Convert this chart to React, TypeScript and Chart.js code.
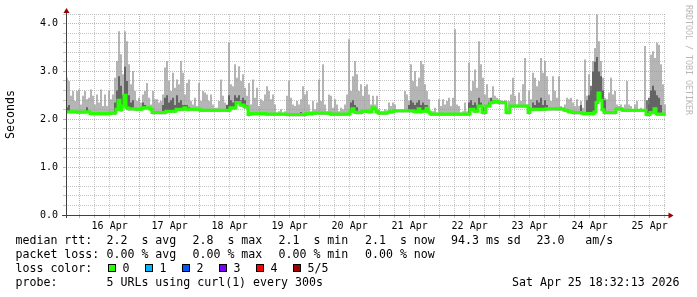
import React, { useEffect, useRef } from "react";
import { Chart, registerables } from "chart.js";

Chart.register(...registerables);

// ---------------- data ----------------
const DAY_LABELS = ["16 Apr", "17 Apr", "18 Apr", "19 Apr", "20 Apr", "21 Apr", "22 Apr", "23 Apr", "24 Apr", "25 Apr"];
// hours relative to 16 Apr 00:00
const START_HOUR = -5.4631; // Apr 15 18:32:13
const END_HOUR = 234.5369; // Apr 25 18:32:13
const STEP_HOURS = 0.8; // one consolidated sample = 48 min
const Y_MAX = 4.2;

// median round-trip time (seconds)
const MEDIAN = [
  2.16,2.16,2.16,2.16,2.16,2.15,2.15,2.15,2.15,2.15,
  2.16,2.16,2.12,2.12,2.12,2.12,2.12,2.12,2.12,2.12,
  2.12,2.12,2.13,2.13,2.13,2.21,2.40,2.20,2.28,2.50,
  2.24,2.22,2.22,2.22,2.22,2.21,2.21,2.21,2.24,2.24,
  2.24,2.24,2.21,2.14,2.14,2.14,2.14,2.14,2.14,2.14,
  2.17,2.17,2.17,2.17,2.17,2.21,2.21,2.21,2.21,2.24,

  2.21,2.21,2.21,2.21,2.21,2.21,2.21,2.19,2.19,2.19,
  2.19,2.19,2.19,2.19,2.19,2.19,2.19,2.19,2.19,2.19,
  2.19,2.19,2.24,2.24,2.24,2.35,2.35,2.30,2.30,2.26,
  2.26,2.10,2.12,2.12,2.12,2.12,2.12,2.12,2.12,2.12,
  2.11,2.11,2.11,2.11,2.11,2.11,2.11,2.11,2.11,2.11,
  2.10,2.10,2.10,2.10,2.10,2.10,2.10,2.10,2.10,2.10,

  2.12,2.12,2.12,2.12,2.13,2.13,2.13,2.13,2.13,2.13,
  2.13,2.13,2.11,2.11,2.11,2.11,2.11,2.11,2.11,2.11,
  2.11,2.11,2.17,2.22,2.15,2.14,2.14,2.14,2.17,2.17,
  2.17,2.16,2.16,2.24,2.22,2.16,2.13,2.13,2.13,2.13,
  2.13,2.16,2.16,2.16,2.18,2.18,2.18,2.18,2.18,2.18,
  2.18,2.18,2.18,2.18,2.16,2.16,2.22,2.16,2.17,2.17,

  2.23,2.15,2.11,2.11,2.11,2.11,2.11,2.11,2.11,2.11,
  2.11,2.11,2.11,2.11,2.11,2.11,2.11,2.11,2.11,2.11,
  2.11,2.11,2.21,2.21,2.17,2.17,2.28,2.28,2.14,2.14,
  2.28,2.28,2.35,2.35,2.37,2.37,2.35,2.35,2.35,2.35,
  2.14,2.14,2.28,2.28,2.28,2.28,2.28,2.28,2.28,2.28,
  2.28,2.14,2.21,2.21,2.21,2.21,2.21,2.21,2.21,2.21,

  2.22,2.22,2.22,2.22,2.22,2.22,2.22,2.22,2.22,2.19,
  2.19,2.16,2.16,2.14,2.14,2.14,2.14,2.14,2.12,2.12,
  2.12,2.12,2.12,2.12,2.15,2.35,2.55,2.40,2.20,2.14,
  2.14,2.14,2.14,2.14,2.14,2.22,2.22,2.22,2.19,2.19,
  2.19,2.19,2.19,2.19,2.19,2.19,2.19,2.19,2.19,2.19,
  2.10,2.10,2.14,2.14,2.22,2.11,2.11,2.11,2.11,2.11,
];

// slowest ping of each sample (top of the light smoke)
const MAX_RTT = [
  2.87,2.80,2.49,2.59,2.38,2.59,2.62,2.31,2.49,2.59,
  2.42,2.45,2.62,2.49,2.31,2.52,2.35,2.62,2.28,2.52,
  2.28,2.59,2.42,2.52,2.87,3.22,3.84,3.36,2.94,3.84,
  3.63,3.15,2.73,3.01,2.59,2.38,2.45,2.35,2.52,2.59,
  2.76,2.45,2.31,2.59,2.42,2.42,2.35,2.38,2.52,3.08,
  3.22,2.80,2.59,2.97,2.66,2.83,2.73,3.22,2.97,2.52,

  2.76,2.83,2.38,2.31,2.45,2.28,2.76,2.38,2.59,2.56,
  2.52,2.38,2.52,2.31,2.24,2.24,2.38,2.83,2.49,2.35,
  2.31,3.60,2.73,2.69,3.15,2.87,3.11,2.80,2.94,2.66,
  2.49,2.76,2.31,2.83,2.45,2.66,2.28,2.42,2.38,2.52,
  2.69,2.59,2.42,2.52,2.31,2.14,2.17,2.21,2.14,2.17,
  2.49,2.80,2.45,2.31,2.28,2.38,2.31,2.42,2.69,2.52,

  2.59,2.31,2.17,2.38,2.21,2.35,2.83,2.38,3.15,2.31,
  2.17,2.52,2.49,2.24,2.42,2.31,2.17,2.24,2.21,2.31,
  2.52,3.67,2.59,2.90,3.22,2.94,2.59,2.73,2.49,2.69,
  2.73,2.52,2.31,2.49,2.31,2.49,2.21,2.17,2.17,2.21,
  2.17,2.35,2.28,2.35,2.31,2.17,2.17,2.17,2.21,2.59,
  2.52,2.38,3.15,2.80,3.01,2.69,2.87,3.22,3.15,2.73,

  2.59,2.42,2.17,2.17,2.24,2.14,2.42,2.28,2.42,2.31,
  2.38,2.45,2.28,2.45,3.88,2.31,2.28,2.14,2.17,2.35,
  2.17,3.18,2.59,2.80,3.04,2.66,3.63,3.15,2.87,2.52,
  2.73,2.45,2.45,2.69,2.49,2.45,2.42,2.40,2.38,2.40,
  2.24,2.38,2.52,2.87,2.49,2.31,2.56,2.38,2.73,3.28,
  2.31,2.59,2.42,2.97,2.87,2.69,2.80,3.28,2.97,3.22,

  2.90,2.52,2.38,2.90,2.59,2.45,2.90,2.28,2.21,2.31,
  2.45,2.42,2.45,2.35,2.28,2.42,2.28,2.38,2.24,3.25,
  2.49,2.94,2.59,3.22,3.49,4.19,3.63,3.22,2.87,2.45,
  2.42,2.56,2.87,2.52,2.59,2.31,2.28,2.31,2.24,2.31,
  2.80,2.31,2.28,2.21,2.31,2.38,2.21,2.24,2.21,3.53,
  2.17,2.31,3.35,3.42,3.28,3.60,3.56,3.15,2.73,2.31,
];

// upper edge of the dense (dark) smoke, 0 = none
const DARK_SMOKE = [
  2.25,2.30,0,0,0,0,0,0,0,0,
  2.25,0,0,0,0,0,0,0,0,0,
  0,0,0,0,2.35,2.60,2.90,2.70,2.50,3.10,
  2.80,2.50,2.35,2.40,0,0,0,0,2.35,2.30,
  0,0,0,0,0,0,0,0,2.30,2.45,
  2.50,2.35,2.40,2.45,2.30,2.50,2.35,2.40,2.30,2.30,

  2.30,2.25,0,0,0,0,0,0,0,0,
  0,0,0,0,0,0,0,0,0,0,
  2.30,2.50,2.40,2.35,2.50,2.45,2.50,2.40,2.45,2.40,
  2.30,0,0,0,0,0,0,0,0,0,
  0,0,0,0,0,0,0,0,0,0,
  0,0,0,0,0,0,0,2.15,0,0,

  0,0,0,0,0,0,0,0,0,0,
  0,0,0,0,0,0,0,0,0,0,
  0,0,2.35,2.40,2.30,2.25,0,0,0,0,
  0,0,0,2.25,0,0,0,0,0,0,
  0,0,0,0,0,0,0,0,0,0,
  0,2.30,2.40,2.35,2.30,2.35,2.40,2.30,2.35,2.30,

  2.30,0,0,0,0,0,0,0,0,0,
  0,0,0,0,0,0,0,0,0,0,
  0,2.35,2.40,2.30,2.35,2.30,2.45,2.35,2.25,0,
  0,2.35,2.45,2.40,0,0,0,0,0,0,
  0,0,0,0,0,0,0,0,0,0,
  2.30,2.25,0,2.35,2.30,2.40,2.35,2.45,2.30,2.40,

  2.30,0,0,0,0,0,0,0,0,0,
  0,0,0,0,0,0,0,2.30,0,0,
  2.40,2.50,2.70,3.00,3.20,3.30,3.00,2.90,2.60,2.40,
  0,0,0,0,0,0,0,0,0,0,
  0,0,0,0,0,0,0,0,0,0,
  2.40,2.45,2.60,2.70,2.60,2.50,2.45,2.30,0,0,
];

const RTT_LABEL = "median rtt:";
const RTT_STATS = ["2.2  s avg", "2.8  s max", "2.1  s min", "2.1  s now", "94.3 ms sd", "23.0   am/s"];
const LOSS_LABEL = "packet loss:";
const LOSS_STATS = ["0.00 % avg", "0.00 % max", "0.00 % min", "0.00 % now"];
const LOSS_COLOR_LABEL = "loss color:";
const LOSS_NAMES = ["0", "1", "2", "3", "4", "5/5"];
const LOSS_COLORS = ["#26ff00", "#00b8ff", "#0059ff", "#7e00ff", "#ff0000", "#a00000"];
const PROBE_LABEL = "probe:";
const PROBE_TEXT = "5 URLs using curl(1) every 300s";
const TIMESTAMP = "Sat Apr 25 18:32:13 2026";
const WATERMARK = "RRDTOOL / TOBI OETIKER";
const Y_TITLE = "Seconds";

// ---------------- styles ----------------
const MONO = "'DejaVu Sans Mono', monospace";
const LEGEND_FONT = `11.6px ${MONO}`;
const MINOR_GRID = "rgba(150,150,150,0.55)";
const MAJOR_GRID = "rgba(225,110,110,0.65)";
const AXIS_COLOR = "#404040";
const ARROW_COLOR = "#990000";

const isInt = (v: number) => Math.abs(v - Math.round(v)) < 1e-6;

const decorPlugin = {
  id: "rrdDecor",
  afterDraw(chart: any) {
    const { ctx, chartArea: a } = chart;
    ctx.save();
    // axes
    ctx.strokeStyle = AXIS_COLOR;
    ctx.lineWidth = 1;
    ctx.beginPath();
    ctx.moveTo(a.left - 4, a.bottom + 0.5);
    ctx.lineTo(a.right + 3, a.bottom + 0.5);
    ctx.moveTo(a.left + 0.5, a.bottom + 3);
    ctx.lineTo(a.left + 0.5, a.top - 2);
    ctx.stroke();
    // arrows
    ctx.fillStyle = ARROW_COLOR;
    ctx.beginPath();
    ctx.moveTo(a.left + 0.5, a.top - 6);
    ctx.lineTo(a.left - 2.5, a.top - 1);
    ctx.lineTo(a.left + 3.5, a.top - 1);
    ctx.closePath();
    ctx.fill();
    ctx.beginPath();
    ctx.moveTo(a.right + 7.5, a.bottom + 0.5);
    ctx.lineTo(a.right + 2.5, a.bottom - 2.5);
    ctx.lineTo(a.right + 2.5, a.bottom + 3.5);
    ctx.closePath();
    ctx.fill();

    // watermark
    ctx.save();
    ctx.translate(688.5, 5);
    ctx.rotate(Math.PI / 2);
    ctx.font = `8.3px ${MONO}`;
    ctx.fillStyle = "#b8b8b8";
    ctx.textAlign = "left";
    ctx.textBaseline = "middle";
    ctx.fillText(WATERMARK, 0, 0);
    ctx.restore();

    // legend
    ctx.font = LEGEND_FONT;
    ctx.fillStyle = "#000";
    ctx.textAlign = "left";
    ctx.textBaseline = "alphabetic";
    const cols = [106.5, 192.5, 278.5, 365, 451, 536.5];
    const rows = [244, 258, 272, 286];
    ctx.fillText(RTT_LABEL, 15.5, rows[0]);
    RTT_STATS.forEach((t, i) => ctx.fillText(t, cols[i], rows[0]));
    ctx.fillText(LOSS_LABEL, 15.5, rows[1]);
    LOSS_STATS.forEach((t, i) => ctx.fillText(t, cols[i], rows[1]));
    ctx.fillText(LOSS_COLOR_LABEL, 15.5, rows[2]);
    LOSS_NAMES.forEach((t, i) => {
      const bx = Math.round(108 + i * 36.9);
      ctx.fillStyle = LOSS_COLORS[i];
      ctx.fillRect(bx, 264, 8, 8);
      ctx.strokeStyle = "#000";
      ctx.strokeRect(bx + 0.5, 264.5, 7, 7);
      ctx.fillStyle = "#000";
      ctx.fillText(t, bx + 14.5, rows[2]);
    });
    ctx.fillText(PROBE_LABEL, 15.5, rows[3]);
    ctx.fillText(PROBE_TEXT, cols[0], rows[3]);
    ctx.fillText(TIMESTAMP, 512, rows[3]);
    ctx.restore();
  },
};

export default function App() {
  const ref = useRef<HTMLCanvasElement | null>(null);

  useEffect(() => {
    if (!ref.current) return;
    const times = MEDIAN.map((_, i) => START_HOUR + (i + 0.5) * STEP_HOURS);
    const lightData = MAX_RTT.map((v, i) => ({ x: times[i], y: [MEDIAN[i] - 0.04, v] }));
    const darkData: any[] = [];
    DARK_SMOKE.forEach((v, i) => {
      if (v > 0) darkData.push({ x: times[i], y: [MEDIAN[i] - 0.02, v] });
    });
    const medData = MEDIAN.map((v, i) => ({ x: times[i], y: v }));

    const chart = new Chart(ref.current, {
      type: "bar",
      data: {
        datasets: [
          {
            type: "line",
            label: "median",
            data: medData,
            borderColor: "#26ff00",
            borderWidth: 3,
            pointRadius: 0,
            stepped: "middle",
            order: 0,
          } as any,
          {
            type: "bar",
            label: "dense smoke",
            data: darkData,
            backgroundColor: "#4a4a4a",
            borderWidth: 0,
            grouped: false,
            barPercentage: 0.75,
            categoryPercentage: 1,
            order: 1,
          } as any,
          {
            type: "bar",
            label: "smoke",
            data: lightData,
            backgroundColor: "#9c9c9c",
            borderWidth: 0,
            grouped: false,
            barPercentage: 0.75,
            categoryPercentage: 1,
            order: 2,
          } as any,
        ],
      },
      options: {
        animation: false,
        responsive: false,
        devicePixelRatio: 1,
        events: [],
        layout: { padding: { left: 0, top: 14, right: 31, bottom: 62 } },
        plugins: {
          legend: { display: false },
          tooltip: { enabled: false },
          title: { display: false },
        },
        scales: {
          x: {
            type: "linear",
            min: START_HOUR,
            max: END_HOUR,
            offset: false,
            afterBuildTicks: (s: any) => {
              const t: any[] = [];
              for (let h = Math.ceil(s.min / 6) * 6; h <= s.max; h += 6) t.push({ value: h });
              s.ticks = t;
            },
            afterFit: (s: any) => {
              s.height = 20;
            },
            grid: {
              offset: false,
              color: (c: any) => (c.tick && c.tick.value % 24 === 0 ? MAJOR_GRID : MINOR_GRID),
              lineWidth: 1,
              tickLength: 3,
            },
            border: { display: false, dash: [1, 1] },
            ticks: {
              autoSkip: false,
              maxRotation: 0,
              padding: 2,
              color: "#000",
              font: { family: MONO, size: 10 },
              callback: (v: any) => {
                const k = (Number(v) - 12) / 24;
                return Number.isInteger(k) && k >= 0 && k < DAY_LABELS.length ? DAY_LABELS[k] : "";
              },
            },
          },
          y: {
            type: "linear",
            min: 0,
            max: Y_MAX,
            afterBuildTicks: (s: any) => {
              const t: any[] = [];
              for (let k = 0; k <= Math.round(Y_MAX / 0.2); k++) t.push({ value: k * 0.2 });
              s.ticks = t;
            },
            afterFit: (s: any) => {
              s.width = 66;
            },
            grid: {
              color: (c: any) => (c.tick && isInt(c.tick.value) ? MAJOR_GRID : MINOR_GRID),
              lineWidth: 1,
              tickLength: 3,
            },
            border: { display: false, dash: [1, 1] },
            title: {
              display: true,
              text: Y_TITLE,
              color: "#000",
              font: { family: MONO, size: 11.6 },
              padding: { top: 4, bottom: 0 },
            },
            ticks: {
              autoSkip: false,
              padding: 5,
              color: "#000",
              font: { family: MONO, size: 10 },
              callback: (v: any) => (isInt(Number(v)) ? Math.round(Number(v)).toFixed(1) : ""),
            },
          },
        },
      },
      plugins: [decorPlugin],
    } as any);

    return () => chart.destroy();
  }, []);

  return (
    <div style={{ position: "fixed", left: 0, top: 0, width: 697, height: 297, background: "#fff" }}>
      <canvas ref={ref} width={697} height={297} style={{ display: "block", width: 697, height: 297 }} />
    </div>
  );
}
